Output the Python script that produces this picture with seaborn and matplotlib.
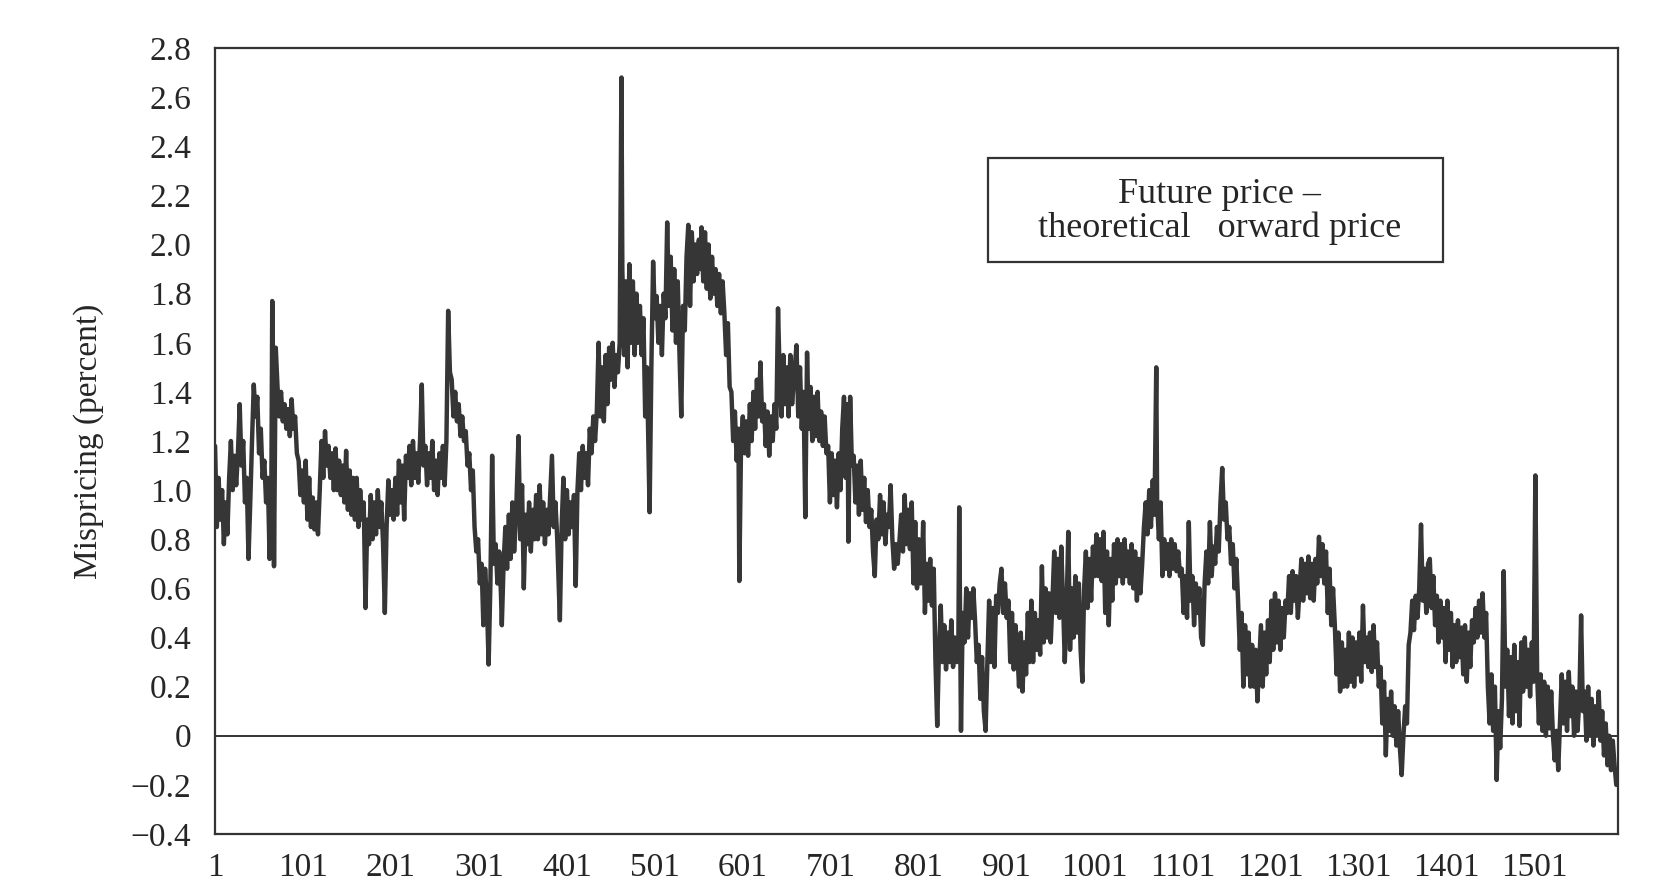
import matplotlib
matplotlib.use("Agg")
import matplotlib.pyplot as plt
from matplotlib.patches import Rectangle
import seaborn as sns

# ---- data: (day, mispricing %), period by period ----
seg_a = [(1,1.18),(3,0.85),(5,1.05),(7,0.88),(9,1.0),(11,0.78),(13,0.95),(15,0.82),(17,1.05),(19,1.2),
         (21,1.0),(23,1.14),(25,1.02),(27,1.15),(29,1.35),(31,1.1),(33,1.2),(35,0.95),(37,1.05),(39,0.72),
         (41,0.95),(43,1.2),(45,1.43),(47,1.3),(49,1.38),(51,1.15),(53,1.25),(55,1.05),(57,1.12),(59,0.95),
         (61,1.05),(63,0.72),(65,1.0),(66,1.77),(67,1.5),(68,0.69),(70,1.58),(72,1.42),(74,1.3),(76,1.4),
         (78,1.28),(80,1.35),(82,1.25),(84,1.33),(86,1.22),(88,1.37),(90,1.25),(92,1.3),(94,1.15),(96,1.12),
         (98,0.98),(100,1.08),(102,0.95),(104,1.12),(106,0.88),(108,1.05),(110,0.85),(112,0.97),(114,0.84),
         (116,0.95),(118,0.82),(120,1.0),(122,1.2),(124,1.05),(126,1.24),(128,1.1),(130,1.18),(132,1.05),
         (134,1.15),(136,1.0),(138,1.17),(140,1.0),(142,1.12),(144,0.98),(146,1.1),(148,0.95),(150,1.16),
         (152,0.92),(154,1.08),(156,0.9),(158,1.05),(160,0.88),(162,1.05),(164,0.85),(166,1.0),(168,0.88),
         (170,0.95),(172,0.52),(174,0.88),(176,0.78),(178,0.98),(180,0.8),(182,0.95),(184,0.82),(186,1.0),
         (188,0.85),(190,0.95),(192,0.78),(194,0.5),(196,0.85),(198,1.04),(200,0.9),(202,1.0),(204,0.88),
         (206,1.05),(208,0.9),(210,1.12),(212,0.95),(214,1.1),(216,0.88),(218,1.14),(220,1.05),(222,1.18),
         (224,1.02),(226,1.2),(228,1.05),(230,1.15),(232,1.03),(234,1.2),(236,1.43),(238,1.1),(240,1.18),
         (242,1.02),(244,1.15),(246,1.05),(248,1.2),(250,1.0),(252,1.12),(254,0.98),(256,1.15),(258,1.05),
         (260,1.18),(262,1.02),(264,1.2),(266,1.73),(268,1.48)]

seg_b = [(270,1.45),(272,1.3),(274,1.4),(276,1.28),(278,1.35),(280,1.22),(282,1.3),(284,1.2),(286,1.24),
         (288,1.1),(290,1.15),(292,1.0),(294,1.08),(296,0.85),(298,0.75),(300,0.8),(302,0.62),(304,0.7),
         (306,0.45),(308,0.68),(310,0.55),(312,0.29),(314,0.62),(316,1.14),(318,0.7),(320,0.78),(322,0.62),
         (324,0.75),(326,0.58),(327,0.45),(329,0.7),(331,0.85),(333,0.68),(335,0.9),(337,0.72),(339,0.95),
         (341,0.75),(343,0.88),(346,1.22),(348,0.8),(350,1.02),(352,0.6),(354,0.9),(356,0.78),(358,0.95),
         (360,0.75),(362,0.92),(364,0.8),(366,0.98),(368,0.8),(370,1.02),(372,0.82),(374,0.95),(376,0.78),
         (378,0.92),(380,0.82),(384,1.14),(386,0.85),(388,0.95),(390,0.8),(393,0.47),(395,0.85),(397,1.05),
         (399,0.8),(401,1.0),(403,0.82),(405,0.95),(407,0.85),(409,0.98),(411,0.61),(413,1.0),(415,1.15),
         (417,1.0),(419,1.18),(421,1.05),(423,1.15),(425,1.02),(427,1.25),(429,1.15),(431,1.3),(433,1.2),
         (435,1.32),(437,1.6),(439,1.3),(441,1.5),(443,1.28),(445,1.55),(447,1.35),(449,1.58),(451,1.45),
         (453,1.6),(455,1.42),(457,1.55),(459,1.48),(461,1.6),(463,2.68),(464,1.9),(466,1.55),(468,1.85),
         (470,1.5),(472,1.92),(474,1.6),(476,1.85),(478,1.55),(480,1.8),(482,1.6),(484,1.75),(486,1.55),
         (488,1.7),(490,1.3),(492,1.5),(494,1.1),(495,0.91),(497,1.5),(499,1.93),(501,1.7),(503,1.79),
         (505,1.6),(507,1.75),(509,1.55),(511,1.8),(513,1.7),(515,2.09),(517,1.75),(519,1.95),(521,1.65),
         (523,1.9),(525,1.6),(527,1.85),(529,1.55),(531,1.3),(533,1.75),(535,1.65),(537,1.95),(539,2.08)]

seg_c = [(541,1.75),(543,2.05),(545,1.85),(547,2.0),(549,1.88),(551,2.02),(553,1.9),(554,2.07),(556,1.85),
         (558,2.05),(560,1.82),(562,2.0),(564,1.78),(566,1.95),(568,1.8),(570,1.9),(572,1.75),(574,1.88),
         (576,1.72),(578,1.85),(580,1.72),(582,1.55),(584,1.68),(586,1.42),(588,1.4),(590,1.2),(592,1.32),
         (594,1.12),(596,1.25),(597,0.63),(599,1.2),(601,1.3),(603,1.15),(605,1.28),(607,1.14),(609,1.35),
         (611,1.2),(613,1.4),(615,1.25),(617,1.45),(619,1.3),(621,1.52),(623,1.28),(625,1.35),(627,1.18),
         (629,1.32),(631,1.14),(633,1.3),(635,1.2),(637,1.35),(639,1.25),(641,1.74),(643,1.45),(645,1.3),
         (647,1.55),(649,1.35),(651,1.5),(653,1.3),(655,1.55),(657,1.35),(659,1.45),(662,1.59),(664,1.3),
         (666,1.5),(668,1.25),(670,1.4),(672,0.89),(674,1.56),(676,1.25),(678,1.42),(680,1.2),(682,1.38),
         (684,1.22),(686,1.4),(688,1.2),(690,1.32),(692,1.18),(694,1.3),(696,1.15),(698,1.18),(700,0.95),
         (702,1.15),(704,0.98),(706,1.12),(708,0.93),(710,1.15),(712,1.0),(714,1.25),(716,1.38),(718,1.05),
         (720,1.35),(721,0.79),(723,1.38),(725,1.1),(727,1.14),(729,0.95),(731,1.1),(733,0.9),(735,1.12),
         (737,0.92),(739,1.05),(741,0.87),(743,1.0),(745,0.85),(747,0.92),(749,0.75),(751,0.65),(753,0.88),
         (755,0.8),(757,0.98),(759,0.82),(761,0.95),(763,0.78),(765,0.9),(767,0.85),(769,1.02),(771,0.8),
         (773,0.68),(775,0.78),(777,0.7),(779,0.79),(781,0.9),(783,0.75),(785,0.98),(787,0.78),(789,0.92),
         (791,0.76),(793,0.95),(795,0.62),(797,0.87),(799,0.6),(801,0.8),(803,0.62),(805,0.73),(806,0.87),
         (808,0.5),(810,0.7)]

seg_d = [(812,0.55),(814,0.72),(816,0.53),(818,0.68),(820,0.3),(822,0.04),(824,0.35),(826,0.53),(828,0.3),
         (830,0.45),(832,0.27),(834,0.42),(836,0.3),(838,0.47),(840,0.28),(842,0.4),(844,0.3),(846,0.35),
         (847,0.93),(849,0.02),(851,0.5),(853,0.38),(855,0.6),(857,0.4),(859,0.58),(861,0.48),(863,0.6),
         (865,0.47),(867,0.3),(869,0.37),(871,0.15),(873,0.32),(875,0.1),(877,0.02),(879,0.3),(881,0.55),
         (883,0.3),(885,0.52),(887,0.28),(889,0.57),(891,0.5),(893,0.62),(895,0.68),(897,0.5),(899,0.62),
         (901,0.48),(903,0.55),(905,0.3),(907,0.5),(909,0.27),(911,0.45),(913,0.35),(915,0.2),(917,0.42),
         (919,0.18),(921,0.38),(923,0.25),(925,0.5),(927,0.3),(929,0.55),(931,0.3),(933,0.5),(935,0.35),
         (937,0.47),(939,0.33),(941,0.69),(943,0.38),(945,0.6),(947,0.4),(949,0.58),(951,0.38),(953,0.55),
         (955,0.75),(957,0.5),(959,0.72),(961,0.48),(963,0.77),(965,0.55),(967,0.3),(969,0.5),(971,0.83),
         (973,0.35),(975,0.6),(977,0.4),(979,0.65),(981,0.42),(983,0.62),(985,0.35),(987,0.22),(989,0.6),
         (991,0.75),(993,0.52),(995,0.72),(997,0.55),(999,0.77),(1001,0.65),(1003,0.82),(1005,0.65),
         (1007,0.8),(1009,0.63),(1011,0.83),(1013,0.5),(1015,0.75),(1017,0.45),(1019,0.72),(1021,0.55),
         (1023,0.78),(1025,0.62),(1027,0.8),(1029,0.65),(1031,0.78),(1033,0.62),(1035,0.8),(1037,0.65),
         (1039,0.75),(1041,0.62),(1043,0.78),(1045,0.6),(1047,0.75),(1049,0.55),(1051,0.72),(1053,0.58),
         (1055,0.7),(1057,0.85),(1059,0.95),(1061,0.82),(1063,1.0),(1065,0.85),(1067,1.04),(1069,0.9),
         (1071,1.5),(1072,0.95),(1074,0.8),(1076,0.95),(1078,0.65),(1080,0.8),(1082,0.68),(1084,0.78),
         (1086,0.65)]

seg_e = [(1088,0.8),(1090,0.68),(1092,0.78),(1094,0.67),(1096,0.75),(1098,0.65),(1100,0.68),(1102,0.5),
         (1104,0.65),(1106,0.48),(1108,0.87),(1110,0.55),(1112,0.65),(1114,0.45),(1116,0.62),(1118,0.5),
         (1120,0.6),(1122,0.4),(1124,0.37),(1126,0.62),(1128,0.75),(1130,0.62),(1132,0.87),(1134,0.65),
         (1136,0.77),(1138,0.7),(1140,0.85),(1142,0.75),(1144,0.95),(1146,1.09),(1148,0.88),(1150,0.95),
         (1152,0.8),(1154,0.85),(1156,0.7),(1158,0.78),(1160,0.6),(1162,0.72),(1164,0.55),(1166,0.35),
         (1168,0.5),(1170,0.2),(1172,0.45),(1174,0.25),(1176,0.42),(1178,0.2),(1180,0.37),(1182,0.2),
         (1184,0.35),(1186,0.14),(1188,0.3),(1190,0.45),(1192,0.2),(1194,0.42),(1196,0.25),(1198,0.47),
         (1200,0.3),(1202,0.55),(1204,0.35),(1206,0.58),(1208,0.38),(1210,0.55),(1212,0.35),(1214,0.52),
         (1216,0.4),(1218,0.55),(1220,0.5),(1222,0.65),(1224,0.5),(1226,0.67),(1228,0.55),(1230,0.65),
         (1232,0.48),(1234,0.6),(1236,0.72),(1238,0.55),(1240,0.7),(1242,0.58),(1244,0.73),(1246,0.56),
         (1248,0.7),(1250,0.55),(1252,0.72),(1254,0.62),(1256,0.81),(1258,0.65),(1260,0.78),(1262,0.62),
         (1264,0.75),(1266,0.5),(1268,0.68),(1270,0.45),(1272,0.6),(1274,0.45),(1276,0.25),(1278,0.42),
         (1280,0.18),(1282,0.38),(1284,0.2),(1286,0.35),(1288,0.2),(1290,0.42),(1292,0.22),(1294,0.4),
         (1296,0.2),(1298,0.38),(1300,0.25),(1302,0.42),(1304,0.22),(1306,0.53),(1308,0.3),(1310,0.4),
         (1312,0.28),(1314,0.42),(1316,0.26),(1318,0.45),(1320,0.28),(1322,0.38),(1324,0.2),(1326,0.28),
         (1328,0.05),(1330,0.22),(1332,-0.08),(1334,0.15),(1336,0.02),(1338,0.18),(1340,0.0),(1342,0.12),
         (1344,-0.04),(1346,0.1),(1348,-0.05),(1350,-0.16),(1352,0.0)]

seg_f = [(1354,0.12),(1356,0.05),(1358,0.37),(1360,0.42),(1362,0.55),(1364,0.43),(1366,0.57),(1368,0.48),
         (1370,0.6),(1372,0.86),(1374,0.55),(1376,0.68),(1378,0.5),(1380,0.7),(1382,0.72),(1384,0.52),
         (1386,0.65),(1388,0.45),(1390,0.57),(1392,0.38),(1394,0.55),(1396,0.4),(1398,0.52),(1400,0.3),
         (1402,0.55),(1404,0.35),(1406,0.5),(1408,0.28),(1410,0.45),(1412,0.3),(1414,0.47),(1416,0.32),
         (1418,0.44),(1420,0.25),(1422,0.45),(1424,0.22),(1426,0.42),(1428,0.28),(1430,0.47),(1432,0.38),
         (1434,0.52),(1436,0.4),(1438,0.55),(1440,0.42),(1442,0.58),(1444,0.4),(1446,0.5),(1448,0.2),
         (1450,0.05),(1452,0.25),(1454,0.02),(1456,0.2),(1458,-0.18),(1460,0.1),(1462,-0.05),(1464,0.15),
         (1466,0.67),(1468,0.2),(1470,0.35),(1472,0.08),(1474,0.32),(1476,0.05),(1478,0.37),(1480,0.1),
         (1482,0.3),(1484,0.04),(1486,0.38),(1488,0.18),(1490,0.4),(1492,0.2),(1494,0.35),(1496,0.16),
         (1498,0.38),(1500,0.22),(1502,1.06),(1504,0.25),(1506,0.05),(1508,0.25),(1510,0.02),(1512,0.22),
         (1514,0.0),(1516,0.2),(1518,0.03),(1520,0.18),(1522,0.0),(1524,-0.1),(1526,0.02),(1528,-0.14),
         (1530,0.05),(1532,0.25),(1534,0.05),(1536,0.22),(1538,0.02),(1540,0.26),(1542,0.08),(1544,0.2),
         (1546,0.0),(1548,0.18),(1550,0.02),(1552,0.15),(1554,0.49),(1556,0.1),(1558,0.18),(1560,-0.02),
         (1562,0.2),(1564,0.0),(1566,0.15),(1568,-0.04),(1570,0.12),(1572,0.0),(1574,0.18),(1576,-0.02),
         (1578,0.1),(1580,-0.08),(1582,0.05),(1584,-0.12),(1586,0.0),(1588,-0.14),(1590,-0.02),(1592,-0.12),
         (1594,-0.2)]

x_ticks = [1, 101, 201, 301, 401, 501, 601, 701, 801, 901, 1001, 1101, 1201, 1301, 1401, 1501]
y_ticks = [-0.4, -0.2, 0, 0.2, 0.4, 0.6, 0.8, 1.0, 1.2, 1.4, 1.6, 1.8, 2.0, 2.2, 2.4, 2.6, 2.8]
y_tick_labels = ["\u22120.4", "\u22120.2", "0", "0.2", "0.4", "0.6", "0.8", "1.0", "1.2", "1.4",
                 "1.6", "1.8", "2.0", "2.2", "2.4", "2.6", "2.8"]
y_label = "Mispricing (percent)"
legend_text = "Future price \u2013\ntheoretical   orward price"

points = seg_a + seg_b + seg_c + seg_d + seg_e + seg_f
day = [p[0] for p in points]
mispricing = [p[1] for p in points]

# ---- drawing ----
sns.set_style("white")
plt.rcParams["font.family"] = ["Liberation Serif", "DejaVu Serif"]
ink = "#333333"
txt = "#262626"

fig = plt.figure(figsize=(16.75, 8.83), dpi=100)
ax = fig.add_axes([0.1284, 0.0555, 0.8376, 0.8901])

sns.lineplot(x=day, y=mispricing, ax=ax, color="#363636", linewidth=3.2,
             estimator=None, sort=False)
ax.axhline(0, color=ink, linewidth=1.4, zorder=1)

ax.set_xlim(1, 1596)
ax.set_ylim(-0.4, 2.8)
ax.set_xticks(x_ticks)
ax.set_xticklabels([str(t) for t in x_ticks])
ax.set_yticks(y_ticks)
ax.set_yticklabels(y_tick_labels)
ax.tick_params(axis="both", direction="out", length=10, width=1.4, color=ink,
               labelsize=24, labelcolor=txt)
ax.tick_params(axis="y", pad=7)
ax.tick_params(axis="x", pad=3)
for s in ax.spines.values():
    s.set_visible(True)
    s.set_color(ink)
    s.set_linewidth(1.6)

ax.set_xlabel("")
ax.set_ylabel(y_label, fontsize=24, color=txt)
ax.yaxis.set_label_coords(-0.079, 0.5)

ax.add_patch(Rectangle((0.551, 0.728), 0.324, 0.132, transform=ax.transAxes,
                       fill=False, edgecolor=ink, linewidth=1.6, zorder=5))
ax.text(0.716, 0.792, legend_text, transform=ax.transAxes, ha="center", va="center",
        fontsize=26, color=txt, linespacing=1.0, zorder=6)

fig.savefig("out.png", dpi=100, facecolor="white")
